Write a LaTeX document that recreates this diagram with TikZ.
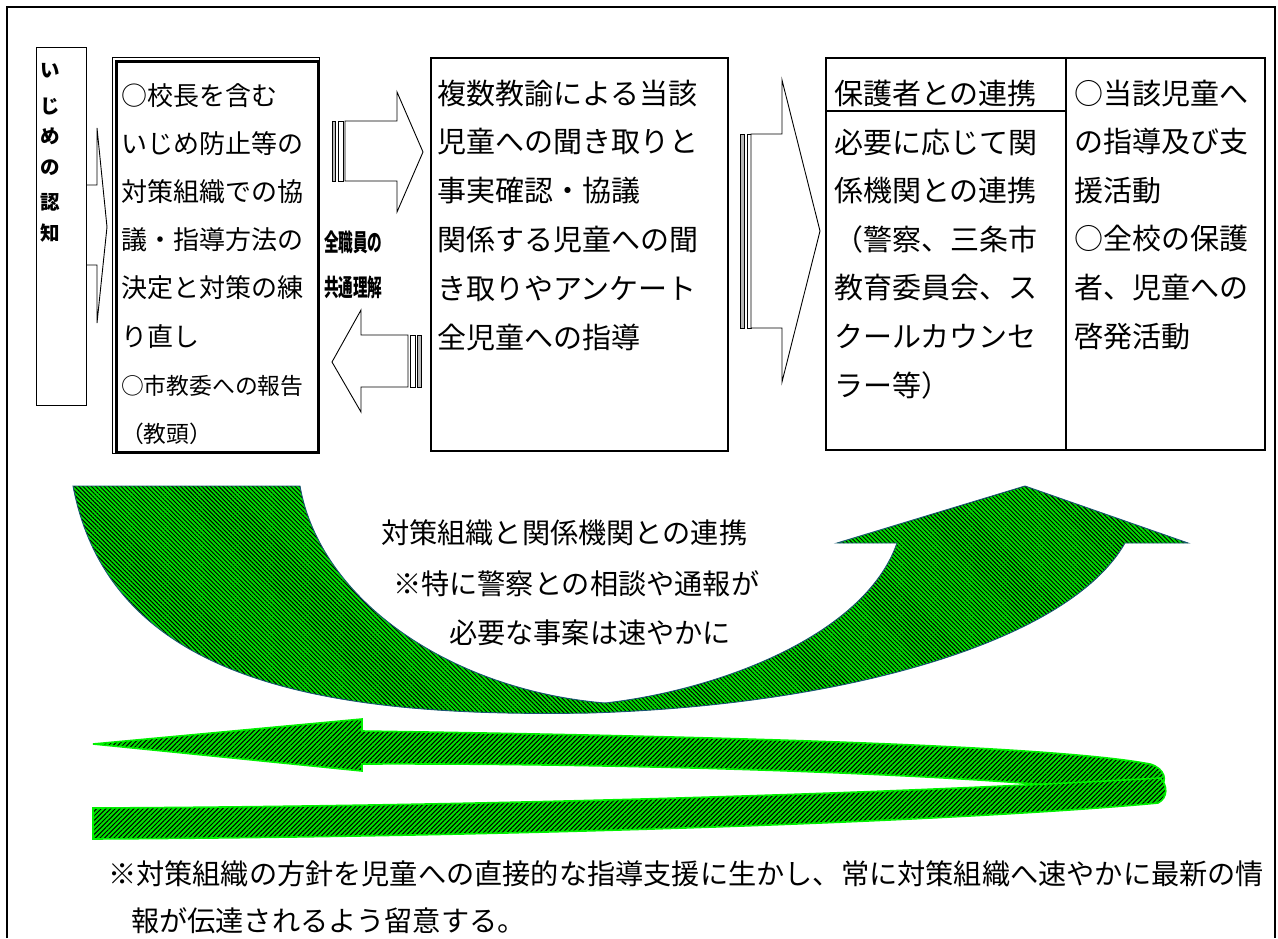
\documentclass[tikz,border=0pt]{standalone}
\usepackage{fontspec}
\setmainfont{Noto Sans CJK JP}
\usetikzlibrary{patterns.meta}
\definecolor{grn}{RGB}{0,225,0}
\definecolor{lgrn}{RGB}{0,240,0}
\definecolor{edgeteal}{RGB}{25,85,115}
\begin{document}
\begin{tikzpicture}[x=1pt,y=-1pt,
  every node/.style={inner sep=0pt,outer sep=0pt},
  txA/.style={anchor=base west,font=\fontsize{26}{26}\selectfont},
  txAs/.style={anchor=base west,font=\fontsize{22.8}{22.8}\selectfont},
  txB/.style={anchor=base west,font=\fontsize{29}{29}\selectfont},
  txC/.style={anchor=base west,font=\fontsize{28.2}{28.2}\selectfont},
  txD/.style={anchor=base west,font=\fontsize{19.5}{19.5}\selectfont\bfseries},
  txE/.style={anchor=base west,font=\fontsize{24}{24}\selectfont\bfseries},
  boxline/.style={draw=black,fill=white,anchor=north west},
  blockarrow/.style={draw=black,line width=0.9pt,fill=white,line join=miter},
  stripegray/.style={draw=black,line width=0.7pt,fill=gray!55},
  stripewhite/.style={draw=black,line width=0.7pt,fill=white},
  curvearrow/.style={preaction={fill=grn},pattern={Lines[angle=-45,distance=3pt,line width=0.95pt]},pattern color=black,draw=edgeteal,line width=0.9pt,line join=miter},
  hairarrow/.style={preaction={fill=grn},pattern={Lines[angle=45,distance=3.3pt,line width=1.05pt]},pattern color=black,draw=lgrn,line width=1.6pt,line join=miter},
]
\useasboundingbox (0,0) rectangle (1278,938);
\fill[white] (0,0) rectangle (1278,938);
% outer frame
\draw[line width=1.6pt] (7,938) -- (7,7) -- (1275,7) -- (1275,938);

% arrow from box 1 to box 2 (shaft hidden behind box 1)
\draw[blockarrow] (70,185) -- (97,185) -- (97,128) -- (107,227) -- (97,323) -- (97,265) -- (70,265) -- cycle;

% box 1
\node[boxline,line width=1pt,minimum width=50,minimum height=358] (box1) at (36,47) {};
\foreach \c/\yy [count=\i] in {い/70,じ/106,め/136,の/167,認/202,知/233}
  \node[txD] (k\i) at (40,{\yy+7.4}) {\c};

% box 2 (double border)
\node[boxline,line width=0.8pt,minimum width=207,minimum height=396] (box2) at (112,57) {};
\node[draw=black,line width=2.4pt,anchor=north west,minimum width=201.5,minimum height=390.5] (box2in) at (116.5,61.5) {};
\foreach \t [count=\i from 0] in {○校長を含む,いじめ防止等の,対策組織での協,議・指導方法の,決定と対策の練,り直し}
  \node[txA] (bb\i) at (121,{105+48.2*\i}) {\t};
\node[txAs] (bb6) at (121,394) {○市教委への報告};
\node[txAs] (bb7) at (121,442) {（教頭）};

% striped arrow box2 -> box3
\draw[stripegray] (332,121) rectangle (335.5,181);
\draw[stripewhite] (338,121) rectangle (343,181);
\draw[blockarrow] (345,121) -- (397,121) -- (397,92) -- (423,152) -- (397,212) -- (397,181) -- (345,181) -- cycle;

% striped arrow box3 -> box2
\draw[blockarrow] (408,335) -- (361,335) -- (361,310) -- (332,362) -- (361,412) -- (361,387) -- (408,387) -- cycle;
\draw[stripewhite] (410,335) rectangle (415,387);
\draw[stripegray] (417.5,335) rectangle (421,387);

% label between
\node[txE] (lab1) at (324,251) {\scalebox{0.61}[1]{全職員の}};
\node[txE] (lab2) at (324,296) {\scalebox{0.61}[1]{共通理解}};

% box 3
\node[boxline,line width=1.6pt,minimum width=297,minimum height=393] (box3) at (431,58) {};
\foreach \t [count=\i from 0] in {複数教諭による当該,児童への聞き取りと,事実確認・協議,関係する児童への聞,き取りやアンケート,全児童への指導}
  \node[txB] (cc\i) at (437,{104+48.8*\i}) {\t};

% big striped arrow box3 -> box4
\draw[stripegray] (740,134) rectangle (744.5,328);
\draw[stripewhite] (747,134) rectangle (751,328);
\draw[blockarrow] (751,134) -- (782,134) -- (782,80) -- (820,231) -- (782,382) -- (782,328) -- (751,328) -- cycle;

% box 4
\node[boxline,line width=2pt,minimum width=439,minimum height=392] (box4) at (826,58) {};
\draw[line width=2pt] (1066,58) -- (1066,450);
\draw[line width=1.6pt] (826,111) -- (1066,111);
\node[txB] (dh) at (834,104) {保護者との連携};
\foreach \t [count=\i from 0] in {必要に応じて関,係機関との連携,（警察、三条市,教育委員会、ス,クールカウンセ,ラー等）}
  \node[txB] (dd\i) at (834,{153+48.6*\i}) {\t};
\foreach \t [count=\i from 0] in {○当該児童へ,の指導及び支,援活動,○全校の保護,者、児童への,啓発活動}
  \node[txB] (ee\i) at (1074,{104+48.6*\i}) {\t};

% curved up arrow
\path[curvearrow] (73,486) -- (300,486) .. controls (320,600) and (450,690) .. (605,703)
  .. controls (720,690) and (865,635) .. (897,543) -- (837,543) -- (1025,486) -- (1188,543) -- (1125,543)
  .. controls (1070,640) and (850,705) .. (590,713)
  .. controls (320,718) and (110,680) .. (73,486) -- cycle;

% middle text
\node[txC] (m1) at (381,543) {対策組織と関係機関との連携};
\node[txC] (m2) at (393,594) {※特に警察との相談や通報が};
\node[txC] (m3) at (449,643) {必要な事案は速やかに};

% hairpin arrow
\path[hairarrow] (93,744) -- (362,719) -- (362,731) .. controls (700,736) and (1050,745) .. (1150,764)
  .. controls (1165,768) and (1168,782) .. (1160,786) -- (1060,786)
  .. controls (900,772) and (600,763) .. (362,764) -- (362,771) -- cycle;
\path[hairarrow] (93,808) .. controls (500,806) and (900,793) .. (1160,778)
  .. controls (1168,785) and (1168,798) .. (1158,803)
  .. controls (1000,818) and (600,836) .. (93,839) -- cycle;

% bottom note
\node[txC] (n1) at (108,884) {※対策組織の方針を児童への直接的な指導支援に生かし、常に対策組織へ速やかに最新の情};
\node[txC] (n2) at (131,931) {報が伝達されるよう留意する。};
\end{tikzpicture}
\end{document}
